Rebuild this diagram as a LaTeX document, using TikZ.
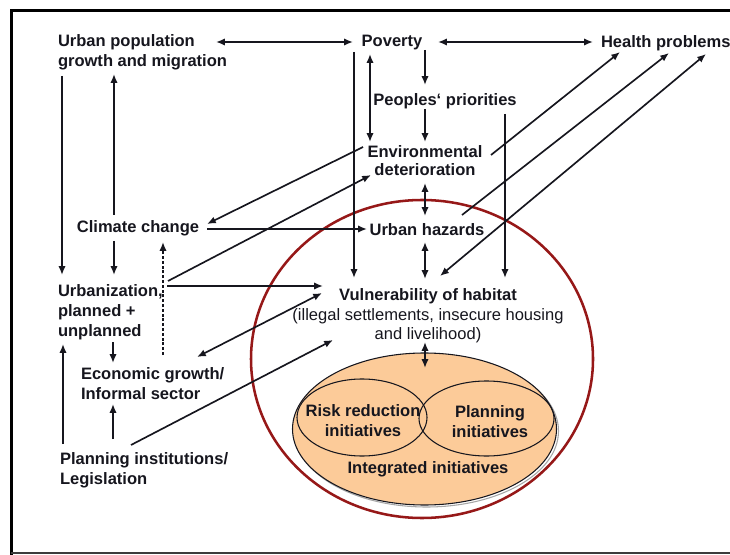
\documentclass[tikz,border=0pt]{standalone}
\usepackage{fontspec}
\setmainfont{Liberation Sans}
\usetikzlibrary{arrows.meta,shapes.geometric}
\definecolor{ink}{RGB}{22,22,30}
\definecolor{habred}{RGB}{150,24,24}
\definecolor{peach}{RGB}{252,203,153}
\definecolor{framegray}{RGB}{60,60,60}
\begin{document}
\begin{tikzpicture}[x=0.75pt,y=-0.75pt,
  lbl/.style={font=\fontsize{12.4}{15}\selectfont\bfseries, inner sep=0pt, outer sep=0pt, text=ink, yshift=-1.5pt},
  tip/.tip={Latex[length=6.6pt,width=5.4pt]},
  link/.style={line width=1.25pt, draw=ink, -tip},
  twoway/.style={line width=1.25pt, draw=ink, tip-tip},
  hint/.style={link, dash pattern=on 2.2pt off 1.4pt},
  oval/.style={ellipse, inner sep=0pt, outer sep=0pt}
]
\useasboundingbox (0,0) rectangle (730,555);

% frame
\draw[line width=2.3pt] (11.5,555) -- (11.5,10.5) -- (730,10.5);
\draw[framegray, line width=1.5pt] (11,552.5) -- (730,552.5);

% habitat circle and initiative ovals
\node[oval, draw=habred, line width=1.9pt, minimum width=256.5pt, minimum height=238.5pt] (habitat) at (422,359) {};
\node[oval, draw=black!35, line width=0.8pt, minimum width=198pt, minimum height=114pt] (integshade) at (426.5,431) {};
\node[oval, draw=ink, fill=peach, line width=0.8pt, minimum width=198pt, minimum height=114pt] (integ) at (424.5,429) {};
\node[oval, draw=ink, line width=0.8pt, minimum width=97.5pt, minimum height=57.75pt] (riskov) at (362,417.5) {};
\node[oval, draw=ink, line width=0.8pt, minimum width=101.25pt, minimum height=56.25pt] (planov) at (486.5,418.5) {};

% labels
\node[lbl, anchor=west, align=left] (pop) at (58,50) {Urban population\\growth and migration};
\node[lbl] (pov) at (392,41) {Poverty};
\node[lbl, anchor=west] (health) at (601,41) {Health problems};
\node[lbl] (prio) at (445,99) {Peoples‘ priorities};
\node[lbl, align=center, font=\fontsize{12.4}{13.6}\selectfont\bfseries] (env) at (425,159) {Environmental\\deterioration};
\node[lbl] (haz) at (427,228) {Urban hazards};
\node[lbl] (clim) at (138,226) {Climate change};
\node[lbl, anchor=west, align=left] (urb) at (58,310) {Urbanization,\\planned +\\unplanned};
\node[lbl, anchor=west, align=left] (econ) at (81,382) {Economic growth/\\Informal sector};
\node[lbl, anchor=west, align=left] (plan) at (60,468) {Planning institutions/\\Legislation};
\node[lbl, align=center, font=\fontsize{12.4}{14.6}\selectfont\mdseries] (vul) at (428,314) {\textbf{Vulnerability of habitat}\\(illegal settlements, insecure housing\\and livelihood)};
\node[lbl, align=center, font=\fontsize{12.4}{15.6}\selectfont\bfseries] (risk) at (363,418.5) {Risk reduction\\initiatives};
\node[lbl, align=center, font=\fontsize{12.4}{15.6}\selectfont\bfseries] (planin) at (490,419.5) {Planning\\initiatives};
\node[lbl] (integt) at (428,467) {Integrated initiatives};

% connectors (node positions above are fixed; offsets are in pixels)
\draw[twoway] ([shift={(158,-10)}]pop.west) -- ([shift={(-39,-1)}]pov.center);
\draw[twoway] ([shift={(46,-1)}]pov.center) -- ([shift={(-8,-1)}]health.west);
\draw[link] ([shift={(4,24)}]pop.west) -- ([shift={(4,-37)}]urb.west);
\draw[link] ([shift={(-24,-13)}]clim.center) -- ([shift={(56,22)}]pop.west);
\draw[link] ([shift={(-24,13)}]clim.center) -- ([shift={(56,-37)}]urb.west);
\draw[hint] ([shift={(82,-29)}]econ.west) -- ([shift={(25,14)}]clim.center);
\draw[link] ([shift={(-38,9)}]pov.center) -- ([shift={(-74,-38)}]vul.center);
\draw[twoway] ([shift={(-22,11)}]pov.center) -- ([shift={(-55,-19)}]env.center);
\draw[link] ([shift={(33,7)}]pov.center) -- ([shift={(-20,-16)}]prio.center);
\draw[link] ([shift={(-20,8)}]prio.center) -- ([shift={(0,-19)}]env.center);
\draw[link] ([shift={(60,13)}]prio.center) -- ([shift={(77,-38)}]vul.center);
\draw[link] ([shift={(-62,-14)}]env.center) -- ([shift={(69,-4)}]clim.center);
\draw[link] ([shift={(110,-31)}]urb.west) -- ([shift={(-54,14)}]env.center);
\draw[link] ([shift={(69,1)}]clim.center) -- ([shift={(-60,-1)}]haz.center);
\draw[twoway] ([shift={(0,22)}]env.center) -- ([shift={(-2,-14)}]haz.center);
\draw[twoway] ([shift={(-2,12)}]haz.center) -- ([shift={(-3,-37)}]vul.center);
\draw[link] ([shift={(66,-6)}]env.center) -- ([shift={(19,9)}]health.west);
\draw[link] ([shift={(35,-15)}]haz.center) -- ([shift={(68,10)}]health.west);
\draw[twoway] ([shift={(12,-40)}]vul.center) -- ([shift={(105,11)}]health.west);
\draw[link] ([shift={(109,-26)}]urb.west) -- ([shift={(-105,-30)}]vul.center);
\draw[twoway] ([shift={(116,-27)}]econ.west) -- ([shift={(-106,-23)}]vul.center);
\draw[link] ([shift={(71,-25)}]plan.west) -- ([shift={(-95,24)}]vul.center);
\draw[link] ([shift={(3,-26)}]plan.west) -- ([shift={(5,32)}]urb.west);
\draw[link] ([shift={(53,-31)}]plan.west) -- ([shift={(32,20)}]econ.west);
\draw[link] ([shift={(55,30)}]urb.west) -- ([shift={(32,-21)}]econ.west);
\draw[twoway] ([shift={(-3,26)}]vul.center) -- ([shift={(0.5,-61)}]integ.center);
\end{tikzpicture}
\end{document}
